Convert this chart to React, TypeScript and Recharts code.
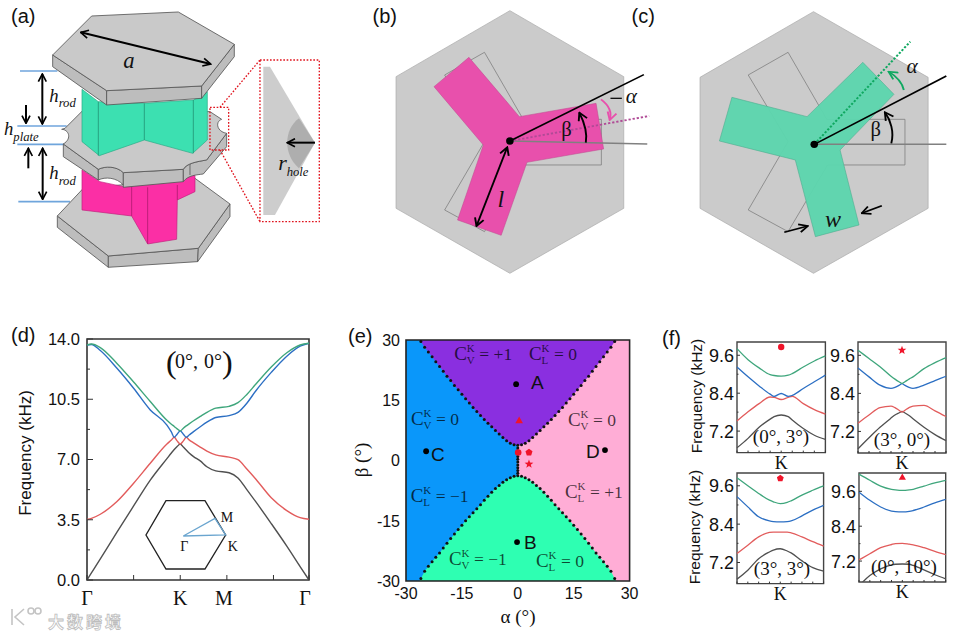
import { ComposedChart, Line, Area, Scatter, XAxis, YAxis, ReferenceArea } from "recharts";

const SANS = "'Liberation Sans', Arial, sans-serif";
const SERIF = "'Liberation Serif', 'Times New Roman', serif";

const GREEN = "#3fa67c";
const BLUE = "#2c6fc3";
const RED = "#e25c5c";
const GRAY = "#505050";

// (d) band structure along the path, x is the fraction of the path
const pathX = [0, 0.02, 0.06, 0.135, 0.21, 0.285, 0.36, 0.38, 0.393, 0.406, 0.42, 0.434, 0.447, 0.46, 0.48, 0.51, 0.54, 0.58, 0.64, 0.68, 0.72, 0.76, 0.83, 0.9, 0.96, 1];
const band1 = [0, 0.41, 1.23, 2.78, 4.3, 5.8, 7.05, 7.38, 7.58, 7.75, 7.9, 7.72, 7.55, 7.38, 7.17, 6.92, 6.58, 6.34, 6.23, 5.93, 5.25, 4.55, 3.28, 1.97, 0.78, 0];
const band2 = [3.52, 3.58, 3.82, 4.56, 5.62, 6.78, 7.9, 8.13, 8.29, 8.08, 7.9, 8.08, 8.29, 8.14, 7.97, 7.72, 7.49, 7.27, 7.14, 6.99, 6.45, 5.87, 4.78, 4.03, 3.62, 3.53];
const band3 = [13.65, 13.68, 13.33, 12.3, 11.14, 9.88, 9.0, 8.6, 8.29, 8.47, 8.66, 8.47, 8.29, 8.42, 8.62, 8.9, 9.17, 9.44, 9.55, 9.74, 10.27, 10.98, 12.06, 13.0, 13.58, 13.75];
const band4 = [13.65, 13.71, 13.5, 12.58, 11.5, 10.37, 9.28, 9.05, 8.92, 8.78, 8.66, 8.82, 8.95, 9.07, 9.25, 9.5, 9.74, 9.98, 10.09, 10.3, 10.78, 11.37, 12.37, 13.2, 13.65, 13.75];
const dYTicks = [0, 1.75, 3.5, 5.25, 7, 8.75, 10.5, 12.25, 14];
const dXTicks = [0, 0.21, 0.42, 0.63, 0.84, 1];
const dXLabels = ["Γ", "", "K", "M", "", "Γ"];

// (e) phase diagram boundary
const alphaSteps = [0, 1, 2, 3, 4, 5, 6, 7, 8, 9, 10, 11, 12, 13, 14, 15, 16, 17, 18, 19, 20, 21, 22, 23, 24, 25, 26];
const upperBeta = [3.8, 3.95, 4.3, 4.9, 5.7, 6.6, 7.5, 8.4, 9.3, 10.2, 11.2, 12.2, 13.2, 14.3, 15.4, 16.5, 17.6, 18.7, 19.9, 21.0, 22.2, 23.4, 24.6, 25.8, 27, 28.2, 29.6];
const lowerBeta = [-3.8, -3.9, -4.3, -4.8, -5.4, -6.2, -7, -7.9, -8.9, -9.9, -11, -12, -13, -14, -15, -16.1, -17.2, -18.3, -19.4, -20.6, -21.8, -23, -24.1, -25.2, -26.3, -27.6, -29.4];
const centreBeta = [-3.2, -2.5, -1.8, -1.1, -0.4, 0.3, 1, 1.7, 2.4, 3.1];
const phaseTicks = [-30, -15, 0, 15, 30];
const blackPoints = [{ x: -0.45, y: 19 }, { x: -0.2, y: -20.3 }, { x: -24.6, y: 2.3 }, { x: 23.4, y: 2.6 }];
const redTriangle = [{ x: 0.36, y: 9.85 }];
const redCircle = [{ x: 0.1, y: 2 }];
const redPentagon = [{ x: 3, y: 2 }];
const redStar = [{ x: 3, y: -0.9 }];

// (f) close-ups around K
const kX = [0, 0.125, 0.25, 0.375, 0.42, 0.5, 0.58, 0.625, 0.75, 0.875, 1];
const f1Green = [9.81, 9.46, 9.2, 8.99, 8.96, 8.94, 8.97, 9.02, 9.23, 9.42, 9.58];
const f1Blue = [9.23, 8.92, 8.63, 8.37, 8.3, 8.39, 8.3, 8.33, 8.55, 8.76, 8.97];
const f1Red = [7.52, 7.81, 8.07, 8.28, 8.27, 8.2, 8.27, 8.3, 8.07, 7.88, 7.74];
const f1Gray = [6.67, 6.97, 7.32, 7.58, 7.66, 7.71, 7.66, 7.55, 7.28, 7.07, 6.94];
const f2X = [0, 0.125, 0.25, 0.375, 0.42, 0.47, 0.5, 0.53, 0.58, 0.625, 0.75, 0.875, 1];
const f2Green = [9.76, 9.5, 9.24, 8.94, 8.85, 8.76, 8.71, 8.76, 8.85, 8.92, 9.18, 9.37, 9.53];
const f2Blue = [9.2, 8.92, 8.66, 8.56, 8.59, 8.66, 8.71, 8.66, 8.59, 8.56, 8.66, 8.8, 8.94];
const f2Red = [7.46, 7.72, 7.95, 8.0, 7.95, 7.86, 7.81, 7.86, 7.95, 8.0, 8.02, 7.85, 7.67];
const f2Gray = [6.65, 7.0, 7.33, 7.62, 7.72, 7.79, 7.83, 7.79, 7.7, 7.6, 7.33, 7.1, 6.91];
const f3Green = [9.85, 9.6, 9.36, 9.15, 9.1, 9.04, 9.08, 9.13, 9.31, 9.46, 9.6];
const f3Blue = [9.26, 8.94, 8.63, 8.5, 8.48, 8.47, 8.48, 8.5, 8.66, 8.84, 8.99];
const f3Red = [7.48, 7.74, 8.0, 8.14, 8.15, 8.15, 8.15, 8.13, 8.0, 7.85, 7.71];
const f3Gray = [6.68, 6.96, 7.32, 7.53, 7.59, 7.63, 7.56, 7.5, 7.25, 7.04, 6.93];
const f4Green = [10.19, 9.98, 9.78, 9.67, 9.65, 9.63, 9.65, 9.67, 9.78, 9.89, 9.98];
const f4Blue = [9.57, 9.29, 9.06, 8.92, 8.9, 8.89, 8.91, 8.94, 9.06, 9.2, 9.32];
const f4Red = [7.24, 7.45, 7.66, 7.77, 7.8, 7.81, 7.78, 7.76, 7.66, 7.53, 7.42];
const f4Gray = [6.35, 6.7, 6.93, 7.07, 7.09, 7.1, 7.09, 7.05, 6.9, 6.73, 6.59];
const kTicks = [0, 0.125, 0.25, 0.375, 0.5, 0.625, 0.75, 0.875, 1];
const fYTicks = [7.2, 7.8, 8.4, 9.0, 9.6];

const bandRows = pathX.map((x, i) => ({ x, band1: band1[i], band2: band2[i], band3: band3[i], band4: band4[i] }));

const topRows = [
  { x: -26.4, range: [30, 30] },
  ...alphaSteps.slice(1).reverse().map((a) => ({ x: -a, range: [upperBeta[a], 30] })),
  ...alphaSteps.map((a) => ({ x: a, range: [upperBeta[a], 30] })),
  { x: 26.4, range: [30, 30] },
];
const bottomRows = [
  { x: -26.4, range: [-30, -30] },
  ...alphaSteps.slice(1).reverse().map((a) => ({ x: -a, range: [-30, lowerBeta[a]] })),
  ...alphaSteps.map((a) => ({ x: a, range: [-30, lowerBeta[a]] })),
  { x: 26.4, range: [-30, -30] },
];
const boundaryDots = [
  ...alphaSteps.map((a) => ({ x: a, y: upperBeta[a] })),
  ...alphaSteps.slice(1).map((a) => ({ x: -a, y: upperBeta[a] })),
  ...alphaSteps.map((a) => ({ x: a, y: lowerBeta[a] })),
  ...alphaSteps.slice(1).map((a) => ({ x: -a, y: lowerBeta[a] })),
  ...centreBeta.map((b) => ({ x: 0, y: b })),
];

function polygonShape(sides: number, r: number, inner?: number) {
  return (p: any) => {
    const n = inner ? sides * 2 : sides;
    const pts = [];
    for (let i = 0; i < n; i++) {
      const t = -Math.PI / 2 + (i * 2 * Math.PI) / n;
      const rr = inner && i % 2 ? inner : r;
      pts.push(`${p.cx + rr * Math.cos(t)},${p.cy + rr * Math.sin(t)}`);
    }
    return <polygon points={pts.join(" ")} fill="#f0142a" />;
  };
}
const circleShape = (r: number, fill: string) => (p: any) => <circle cx={p.cx} cy={p.cy} r={r} fill={fill} />;

// ticks are drawn here so the frame can have long and short inward marks
const leftTick = (isMajor: (v: number) => boolean, size: number, gap: number, len: number, fmt: (v: number) => string) => (p: any) => {
  const major = isMajor(p.payload.value);
  return (
    <g>
      <line x1={p.x} x2={p.x + (major ? len : len / 2)} y1={p.y} y2={p.y} stroke="#333" strokeWidth={1} />
      {major && (
        <text x={p.x - gap} y={p.y + size * 0.36} textAnchor="end" fontFamily={SANS} fontSize={size} fill="#111">
          {fmt(p.payload.value)}
        </text>
      )}
    </g>
  );
};
const bottomTick = (label: (v: number, i: number) => string, dy: number, size: number, font: string, len: number, dxOf?: (i: number) => number) => (p: any) => (
  <g>
    {len > 0 && <line x1={p.x} x2={p.x} y1={p.y} y2={p.y - len} stroke="#333" strokeWidth={1} />}
    <text x={p.x + (dxOf ? dxOf(p.index) : 0)} y={p.y + dy} textAnchor="middle" fontFamily={font} fontSize={size} fill="#111">
      {label(p.payload.value, p.index)}
    </text>
  </g>
);

const M = { top: 10, right: 10, left: 20, bottom: 10 };

function boxStyle(left: number, top: number): React.CSSProperties {
  return { position: "absolute", left: left - 60, top: top - 10 };
}

function CloseUp({ left, top, w, h, domain, xs = kX, green, blue, red, gray, mark, shape }: any) {
  const rows = xs.map((x: number, i: number) => ({ x, green: green[i], blue: blue[i], red: red[i], gray: gray[i] }));
  return (
    <div style={boxStyle(left, top)}>
      <ComposedChart width={w + 70} height={h + 50} data={rows} margin={M}>
        <XAxis
          dataKey="x"
          type="number"
          domain={[0, 1]}
          ticks={kTicks}
          interval={0}
          height={30}
          tickLine={false}
          tickSize={0}
          tickMargin={0}
          axisLine={false}
          tick={bottomTick((v) => (v === 0.5 ? "K" : ""), 16, 18, SERIF, 2)}
        />
        <YAxis
          dataKey="y"
          type="number"
          domain={domain}
          allowDataOverflow
          ticks={fYTicks.filter((t) => t >= domain[0] && t <= domain[1])}
          interval={0}
          width={40}
          tickLine={false}
          tickSize={0}
          tickMargin={0}
          axisLine={false}
          tick={leftTick((v) => Math.abs(v - 7.2) < 0.01 || Math.abs(v - 8.4) < 0.01 || Math.abs(v - 9.6) < 0.01, 18, 3, 3, (v) => v.toFixed(1))}
        />
        <Line dataKey="gray" type="monotone" stroke={GRAY} strokeWidth={1.3} dot={false} isAnimationActive={false} />
        <Line dataKey="red" type="monotone" stroke={RED} strokeWidth={1.3} dot={false} isAnimationActive={false} />
        <Line dataKey="blue" type="monotone" stroke={BLUE} strokeWidth={1.3} dot={false} isAnimationActive={false} />
        <Line dataKey="green" type="monotone" stroke={GREEN} strokeWidth={1.3} dot={false} isAnimationActive={false} />
        <Scatter data={mark} shape={shape} isAnimationActive={false} />
        <ReferenceArea x1={0} x2={1} y1={domain[0]} y2={domain[1]} fill="none" fillOpacity={0} stroke="#444" strokeWidth={1.4} />
      </ComposedChart>
    </div>
  );
}

function Chern({ x, y, sub, val }: { x: number; y: number; sub: string; val: string }) {
  return (
    <g fontFamily={SERIF} fill="#000" fillOpacity={0.72}>
      <text x={x} y={y} fontSize={19}>C</text>
      <text x={x + 12.5} y={y - 8} fontSize={11}>K</text>
      <text x={x + 12.5} y={y + 4} fontSize={11}>{sub}</text>
      <text x={x + 25} y={y} fontSize={17.5}>{val}</text>
    </g>
  );
}

const Arrow = ({ d, both, color = "#000", w = 6 }: { d: string; both?: boolean; color?: string; w?: number }) => (
  <path d={d} fill="none" stroke={color} strokeWidth={w} markerEnd="url(#head)" markerStart={both ? "url(#head)" : undefined} />
);

function SchemeA() {
  const plate = { fill: "#c9c9c9", stroke: "#555", strokeWidth: 2.5, strokeLinejoin: "round" as const };
  const side = { fill: "#bdbdbd", stroke: "#555", strokeWidth: 2.5, strokeLinejoin: "round" as const };
  const it = { fontFamily: SERIF, fontStyle: "italic" as const, fill: "#111" };
  return (
    <g transform="scale(0.3333)">
      {[
        "M60 213H172", "M52 378H200", "M52 433H195", "M55 605H210",
      ].map((d) => <path key={d} d={d} stroke="#6fa5dc" strokeWidth={5} fill="none" />)}
      {/* bottom plate */}
      <polygon points="172,648 172,682 325,802 325,768" {...side} />
      <polygon points="325,768 325,802 593,785 595,745" {...side} />
      <polygon points="595,745 593,785 690,650 690,612" {...side} />
      <polygon points="172,648 250,565 585,535 690,612 595,745 325,768" {...plate} />
      {/* pink rod */}
      <polygon points="246,510 246,630 395,648 443,732 530,718 532,600 585,575 585,520 370,560 300,545" fill="#fb2fa5" stroke="#c01f7c" strokeWidth={2} />
      <path d="M395 560V648M443 562V732M532 555V600" stroke="#b21c72" strokeWidth={2.5} fill="none" />
      {/* middle plate */}
      <path d="M190 432V470L295 540V508Z" {...side} />
      <path d="M295 540C315 530 350 532 370 555V518C350 498 315 498 295 508Z" {...side} />
      <path d="M370 518V562L550 545V508Z" {...side} />
      <path d="M550 545C565 525 590 525 610 522L680 440V400L620 480C590 485 560 490 550 508Z" {...side} />
      <path d="M570 490V525" stroke="#555" strokeWidth={2.5} fill="none" />
      <path d="M185 388C205 388 218 415 190 432L295 508C315 498 350 498 370 518L550 508C560 490 590 485 620 480L680 400C650 395 645 365 665 358L630 335L250 330L195 385Z" {...plate} />
      {/* green rod */}
      <polygon points="246,268 246,425 298,467 433,420 578,460 622,420 622,275 580,300 433,310 295,305" fill="#3ce0b1" stroke="#2aa985" strokeWidth={2} />
      <path d="M295 305V467M433 310V420M580 300V460" stroke="#239677" strokeWidth={2.5} fill="none" />
      {/* top plate */}
      <polygon points="158,165 158,200 320,315 320,272" {...side} />
      <polygon points="320,272 320,315 605,295 605,258" {...side} />
      <polygon points="605,258 605,295 703,170 703,133" {...side} />
      <polygon points="158,165 275,48 535,36 703,133 605,258 320,272" {...plate} />
      <Arrow d="M242 97L632 192" both />
      <text x={370} y={205} fontSize={68} {...it}>a</text>
      <Arrow d="M127 222V372" both />
      <Arrow d="M78 315V370" />
      <Arrow d="M85 505V445" />
      <Arrow d="M128 445V598" both />
      <text x={148} y={305} fontSize={56} {...it}>h</text>
      <text x={176} y={322} fontSize={38} {...it}>rod</text>
      <text x={12} y={405} fontSize={56} {...it}>h</text>
      <text x={40} y={423} fontSize={38} {...it}>plate</text>
      <text x={148} y={537} fontSize={56} {...it}>h</text>
      <text x={176} y={554} fontSize={38} {...it}>rod</text>
      {/* zoom inset */}
      <path d="M660 322L780 180M660 450L780 665" stroke="#e0141e" strokeWidth={4} strokeDasharray="5 5" fill="none" />
      <rect x={630} y={322} width={56} height={128} fill="none" stroke="#e0141e" strokeWidth={4} strokeDasharray="5 5" />
      <rect x={780} y={180} width={178} height={485} fill="#fff" stroke="#e0141e" strokeWidth={4} strokeDasharray="5 5" />
      <polygon points="790,200 810,200 945,428 825,645 790,645" fill="#cdcdcd" />
      <path d="M945 428L897 355C850 390 850 465 897 505Z" fill="#aeaeae" />
      <Arrow d="M945 428H862" />
      <text x={835} y={510} fontSize={66} {...it}>r</text>
      <text x={860} y={528} fontSize={38} {...it}>hole</text>
    </g>
  );
}

const outlineY = "223,225 328,157 430,358 636,358 636,495 432,495 328,695 223,630 328,425";
// the crop of (b) and (c) came back at 2.635x across and 3x down
const topViewScale = "translate(360,0) scale(0.3795,0.3333)";

const ViewText = ({ x, y, size, italic, children }: any) => (
  <text
    transform={`translate(${x},${y}) scale(0.878,1)`}
    fontSize={size}
    fontFamily={SERIF}
    fontStyle={italic ? "italic" : "normal"}
    fill="#111"
  >
    {children}
  </text>
);

function SchemeB() {
  return (
    <g transform={topViewScale}>
      <polygon points="395,32 695,230 695,625 395,820 95,625 95,230" fill="#cbcbcb" stroke="#aaa" strokeWidth={2} />
      <polygon points={outlineY} fill="none" stroke="#777" strokeWidth={2} />
      <polygon points="287,172 420,350 622,310 642,447 440,487 372,706 257,660 325,435 195,260" fill="#e850ac" stroke="#c04a90" strokeWidth={1.5} />
      <path d="M395 423L757 432" stroke="#808080" strokeWidth={4.5} fill="none" />
      <path d="M395 423L762 348" stroke="#b04a96" strokeWidth={5.5} strokeDasharray="6 5" fill="none" />
      <path d="M395 423L748 224" stroke="#000" strokeWidth={4.5} fill="none" />
      <ellipse cx={395} cy={423} rx={10} ry={11} fill="#000" />
      <Arrow d="M388 442L307 678" both w={5} />
      <Arrow d="M595 428C600 395 590 365 578 338" w={5} />
      <Arrow d="M635 298C655 315 665 335 658 360" color="#e850ac" w={5} />
      <ViewText x={362} y={620} size={72} italic>l</ViewText>
      <ViewText x={530} y={408} size={62}>β</ViewText>
      <path d="M660 295H690" stroke="#111" strokeWidth={4} />
      <ViewText x={700} y={310} size={64} italic>α</ViewText>
    </g>
  );
}

function SchemeC() {
  return (
    <g transform={topViewScale}>
      <polygon points="1195,35 1497,232 1497,625 1195,820 896,625 896,232" fill="#cbcbcb" stroke="#aaa" strokeWidth={2} />
      <polygon points={outlineY} transform="translate(800,0)" fill="none" stroke="#777" strokeWidth={2} />
      <polygon points="1325,187 1407,283 1265,450 1315,675 1200,710 1147,480 947,423 980,292 1178,350" fill="#5dd5ae" fillOpacity={0.96} stroke="#4aa88a" strokeWidth={1.5} />
      <path d="M1197 433H1545" stroke="#808080" strokeWidth={4.5} fill="none" />
      <path d="M1197 433L1450 125" stroke="#0fa860" strokeWidth={5.5} strokeDasharray="6 5" fill="none" />
      <path d="M1197 433L1545 228" stroke="#000" strokeWidth={4.5} fill="none" />
      <ellipse cx={1197} cy={433} rx={10} ry={11} fill="#000" />
      <Arrow d="M1400 430C1408 395 1398 360 1383 337" w={5} />
      <Arrow d="M1433 270C1428 245 1412 228 1393 215" color="#0fa860" w={5} />
      <ViewText x={1345} y={408} size={62}>β</ViewText>
      <ViewText x={1440} y={218} size={64} italic>α</ViewText>
      <ViewText x={1225} y={682} size={72} italic>w</ViewText>
      <Arrow d="M1118 697L1180 678" w={5} />
      <Arrow d="M1375 617L1322 640" w={5} />
    </g>
  );
}

export default function App() {
  const panelLabel = (t: string, x: number, y: number) => (
    <text x={x} y={y} fontFamily={SANS} fontSize={20} fill="#111">{t}</text>
  );
  const inset = "translate(0,320) scale(0.3333)";
  return (
    <div style={{ position: "absolute", left: 0, top: 0, width: 955, height: 634, overflow: "hidden", background: "#fff" }}>
      {/* (d) */}
      <div style={boxStyle(87, 339)}>
        <ComposedChart width={292} height={291} data={bandRows} margin={M}>
          <XAxis
            dataKey="x"
            type="number"
            domain={[0, 1]}
            ticks={dXTicks}
            interval={0}
            height={30}
            tickLine={false}
            tickSize={0}
            tickMargin={0}
            axisLine={false}
            tick={bottomTick((_, i) => dXLabels[i], 25, 20, SERIF, 5, (i) => (i === 3 ? -3 : i === 5 ? -4 : 0))}
          />
          <YAxis
            type="number"
            domain={[0, 14]}
            ticks={dYTicks}
            interval={0}
            width={40}
            tickLine={false}
            tickSize={0}
            tickMargin={0}
            axisLine={false}
            tick={leftTick((v) => v % 3.5 === 0, 16.5, 7, 6, (v) => v.toFixed(1))}
          />
          <Line dataKey="band1" type="monotone" stroke={GRAY} strokeWidth={1.4} dot={false} isAnimationActive={false} />
          <Line dataKey="band2" type="monotone" stroke={RED} strokeWidth={1.4} dot={false} isAnimationActive={false} />
          <Line dataKey="band3" type="monotone" stroke={BLUE} strokeWidth={1.4} dot={false} isAnimationActive={false} />
          <Line dataKey="band4" type="monotone" stroke={GREEN} strokeWidth={1.4} dot={false} isAnimationActive={false} />
          <ReferenceArea x1={0} x2={1} y1={0} y2={14} fill="none" fillOpacity={0} stroke="#333" strokeWidth={1.6} />
        </ComposedChart>
      </div>

      {/* (e) */}
      <div style={boxStyle(405.7, 340)}>
        <ComposedChart width={293.6} height={291} margin={M}>
          <XAxis
            dataKey="x"
            type="number"
            domain={[-30, 30]}
            ticks={phaseTicks}
            interval={0}
            height={30}
            tickLine={false}
            tickSize={0}
            tickMargin={0}
            axisLine={false}
            tick={bottomTick((v) => String(v), 18, 16, SANS, 0)}
          />
          <YAxis
            dataKey="y"
            type="number"
            domain={[-30, 30]}
            ticks={phaseTicks}
            interval={0}
            width={40}
            tickLine={false}
            tickSize={0}
            tickMargin={0}
            axisLine={false}
            tick={leftTick(() => true, 16, 6, 0, (v) => String(v))}
          />
          <ReferenceArea x1={-30} x2={0} y1={-30} y2={30} fill="#0a97fa" fillOpacity={1} />
          <ReferenceArea x1={0} x2={30} y1={-30} y2={30} fill="#ffadd6" fillOpacity={1} />
          <Area data={topRows} dataKey="range" type="linear" fill="#8a2fe0" fillOpacity={1} stroke="none" dot={false} isAnimationActive={false} />
          <Area data={bottomRows} dataKey="range" type="linear" fill="#2effb2" fillOpacity={1} stroke="none" dot={false} isAnimationActive={false} />
          <Scatter data={boundaryDots} shape={circleShape(1.5, "#111")} isAnimationActive={false} />
          <Scatter data={blackPoints} shape={circleShape(2.9, "#000")} isAnimationActive={false} />
          <Scatter data={redTriangle} shape={polygonShape(3, 4.4)} isAnimationActive={false} />
          <Scatter data={redCircle} shape={circleShape(3.3, "#f0142a")} isAnimationActive={false} />
          <Scatter data={redPentagon} shape={polygonShape(5, 3.7)} isAnimationActive={false} />
          <Scatter data={redStar} shape={polygonShape(5, 4.6, 1.9)} isAnimationActive={false} />
          <ReferenceArea x1={-30} x2={30} y1={-30} y2={30} fill="none" fillOpacity={0} stroke="#222" strokeWidth={1.6} />
        </ComposedChart>
      </div>

      {/* (f) */}
      <CloseUp left={737.3} top={341.7} w={88.4} h={110.6} domain={[6.52, 10.02]} green={f1Green} blue={f1Blue} red={f1Red} gray={f1Gray} mark={[{ x: 0.5, y: 9.86 }]} shape={circleShape(3.2, "#f0142a")} />
      <CloseUp left={857.7} top={341.7} w={88} h={111} domain={[6.52, 10.02]} xs={f2X} green={f2Green} blue={f2Blue} red={f2Red} gray={f2Gray} mark={[{ x: 0.5, y: 9.76 }]} shape={polygonShape(5, 4.6, 1.9)} />
      <CloseUp left={736.7} top={472.7} w={86.6} h={110.6} domain={[6.54, 10.0]} green={f3Green} blue={f3Blue} red={f3Red} gray={f3Gray} mark={[{ x: 0.5, y: 9.83 }]} shape={polygonShape(5, 3.6)} />
      <CloseUp left={859} top={472.7} w={86.7} h={109} domain={[6.48, 10.23]} green={f4Green} blue={f4Blue} red={f4Red} gray={f4Gray} mark={[{ x: 0.5, y: 10.07 }]} shape={polygonShape(3, 4.2)} />

      <svg width={955} height={634} style={{ position: "absolute", left: 0, top: 0 }}>
        <defs>
          <marker id="head" viewBox="0 0 30 30" refX="27" refY="15" markerWidth="30" markerHeight="30" markerUnits="userSpaceOnUse" orient="auto-start-reverse">
            <path d="M4 3L27 15L4 27" fill="none" stroke="context-stroke" strokeWidth="5" />
          </marker>
        </defs>
        <SchemeA />
        <SchemeB />
        <SchemeC />

        {panelLabel("(a)", 11, 23)}
        {panelLabel("(b)", 372.5, 23)}
        {panelLabel("(c)", 631.5, 23)}
        {panelLabel("(d)", 11, 342)}
        {panelLabel("(e)", 348, 343)}
        {panelLabel("(f)", 662, 345)}

        {/* (d) extras */}
        <text transform="translate(31,453) rotate(-90)" textAnchor="middle" fontFamily={SANS} fontSize={17} fill="#111">Frequency (kHz)</text>
        <g fontFamily={SERIF} fill="#111">
          <text x={166} y={373} fontSize={32} fontWeight={400}>(</text>
          <text x={175} y={368} fontSize={20}>0°,</text>
          <text x={204} y={368} fontSize={20}>0°</text>
          <text x={222} y={373} fontSize={32} fontWeight={400}>)</text>
        </g>
        <g transform={inset}>
          <polygon points="498,542 615,542 677,645 615,747 498,747 438,645" fill="none" stroke="#222" strokeWidth={4} />
          <polygon points="550,648 645,595 677,645" fill="none" stroke="#6aa5cf" strokeWidth={4} />
          <g fontFamily={SERIF} fontSize={42} fill="#111">
            <text x={662} y={607}>M</text>
            <text x={683} y={693}>K</text>
            <text x={541} y={693}>Γ</text>
          </g>
        </g>

        {/* (e) extras */}
        <Chern x={454.3} y={360} sub="V" val="= +1" />
        <Chern x={529} y={360} sub="L" val="= 0" />
        <Chern x={411} y={425} sub="V" val="= 0" />
        <Chern x={410.7} y={501.7} sub="L" val="= −1" />
        <Chern x={568} y={426} sub="V" val="= 0" />
        <Chern x={565} y={497.7} sub="L" val="= +1" />
        <Chern x={449} y={565} sub="V" val="= −1" />
        <Chern x={536} y={566.7} sub="L" val="= 0" />
        <g fontFamily={SANS} fontSize={19} fill="#111">
          <text x={531} y={389}>A</text>
          <text x={524} y={549}>B</text>
          <text x={431} y={461}>C</text>
          <text x={586} y={458}>D</text>
        </g>
        <text transform="translate(368,460) rotate(-90)" textAnchor="middle" fontFamily={SERIF} fontSize={19} fill="#111">β (°)</text>
        <text x={518} y={623} textAnchor="middle" fontFamily={SERIF} fontSize={19} fill="#111">α (°)</text>

        {/* (f) extras */}
        <text transform="translate(702,396) rotate(-90)" textAnchor="middle" fontFamily={SANS} fontSize={15.5} fill="#111">Frequency (kHz)</text>
        <text transform="translate(700,527) rotate(-90)" textAnchor="middle" fontFamily={SANS} fontSize={15.5} fill="#111">Frequency (kHz)</text>
        <g fontFamily={SERIF} fontSize={19} fill="#111" textAnchor="middle">
          <text x={781} y={443}>(0°, 3°)</text>
          <text x={902} y={446}>(3°, 0°)</text>
          <text x={782} y={575}>(3°, 3°)</text>
          <text x={904} y={573}>(0°, 10°)</text>
        </g>

        {/* watermark */}
        <g fill="none" stroke="#c4c4c4" strokeWidth={1.6}>
          <path d="M12 609V625M24 609L15 617L24 625" />
          <circle cx={31} cy={611} r={3} />
          <circle cx={38} cy={611} r={3} />
        </g>
        <text x={48} y={628} fontFamily="'Noto Sans CJK SC'" fontWeight={700} fontSize={16} letterSpacing={3} fill="#fff" stroke="#bdbdbd" strokeWidth={0.8}>大数跨境</text>
      </svg>
    </div>
  );
}
